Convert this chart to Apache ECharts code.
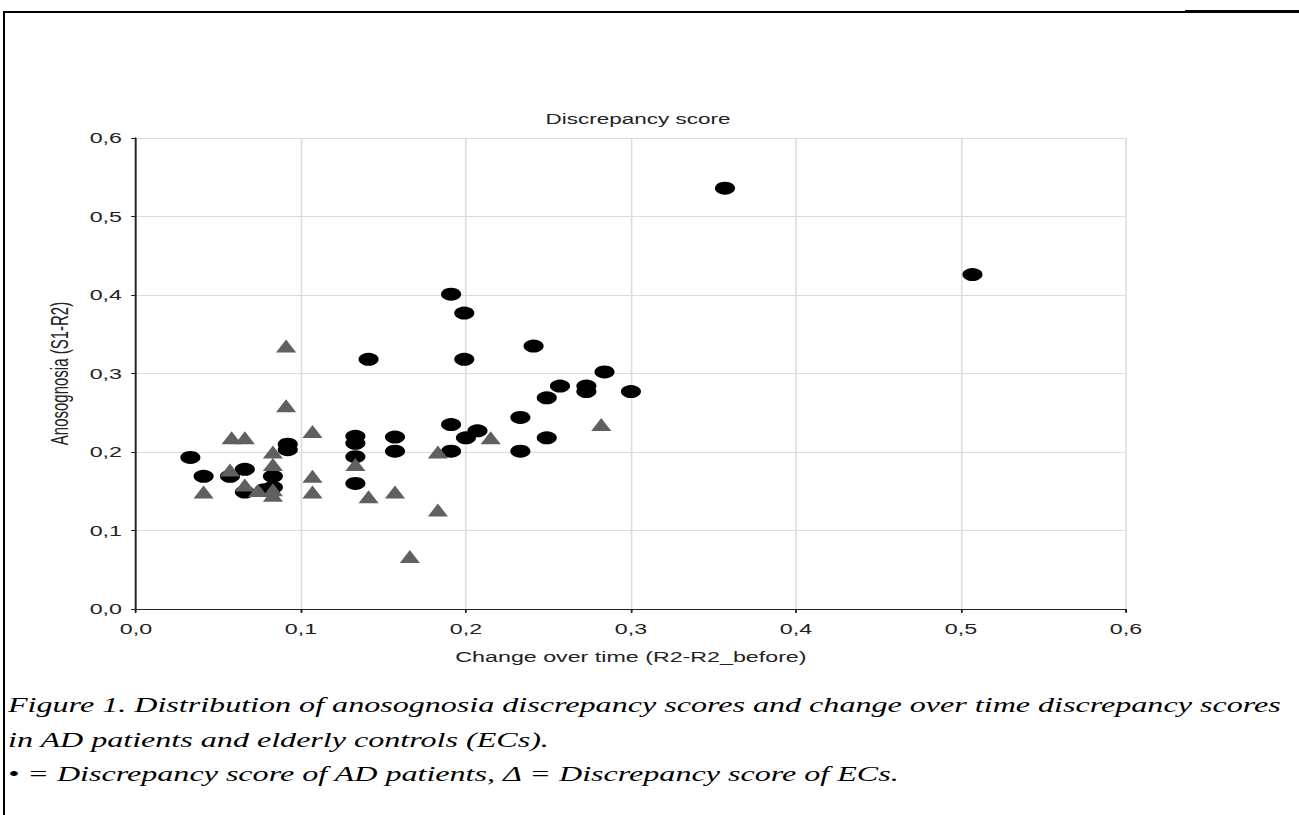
<!DOCTYPE html>
<html>
<head>
<meta charset="utf-8">
<script src="https://cdn.jsdelivr.net/npm/echarts@6/dist/echarts.min.js"></script>
<style>
html,body{margin:0;padding:0;background:#fff;}
body{width:1299px;height:815px;position:relative;overflow:hidden;}
#wrap{position:absolute;left:0;top:0;width:838px;height:815px;transform:scaleX(1.55);transform-origin:0 0;}
#chart{width:838px;height:815px;}
.cap{position:absolute;left:8px;font-family:"Liberation Serif","Times New Roman",serif;font-style:italic;font-size:20.5px;white-space:nowrap;transform:scaleX(1.565);transform-origin:0 0;color:#000;line-height:34.5px;}
.bl{position:absolute;background:#000;}
</style>
</head>
<body>
<div id="wrap"><div id="chart"></div></div>
<div class="bl" style="left:3px;top:11px;width:2px;height:804px;"></div>
<div class="bl" style="left:3px;top:11px;width:1182px;height:1.5px;"></div>
<div class="bl" style="left:1185px;top:10px;width:114px;height:3px;"></div>
<div class="cap" id="c1" style="top:688px;">Figure 1. Distribution of anosognosia discrepancy scores and change over time discrepancy scores</div>
<div class="cap" id="c2" style="top:722.5px;">in AD patients and elderly controls (ECs).</div>
<div class="cap" id="c3" style="top:757px;">• = Discrepancy score of AD patients, Δ = Discrepancy score of ECs.</div>
<script>
// Data: [change over time, anosognosia]
var adPatients = [
  [0.033,0.193],[0.041,0.169],[0.057,0.169],[0.066,0.178],[0.066,0.149],
  [0.078,0.152],[0.083,0.169],[0.083,0.155],[0.092,0.210],[0.092,0.203],
  [0.133,0.220],[0.133,0.211],[0.133,0.194],[0.133,0.160],[0.141,0.318],
  [0.157,0.219],[0.157,0.201],[0.191,0.401],[0.191,0.235],[0.191,0.201],
  [0.199,0.377],[0.199,0.318],[0.200,0.218],[0.207,0.227],[0.233,0.244],
  [0.233,0.201],[0.241,0.335],[0.249,0.269],[0.249,0.218],[0.257,0.284],
  [0.273,0.284],[0.273,0.277],[0.284,0.302],[0.300,0.277],[0.357,0.536],
  [0.507,0.426]
];
var elderlyControls = [
  [0.041,0.149],[0.057,0.177],[0.058,0.218],[0.066,0.218],[0.066,0.158],
  [0.074,0.151],[0.083,0.200],[0.083,0.184],[0.083,0.152],[0.083,0.145],
  [0.091,0.335],[0.091,0.259],[0.107,0.226],[0.107,0.169],[0.107,0.149],
  [0.133,0.184],[0.141,0.143],[0.157,0.149],[0.166,0.067],[0.183,0.200],
  [0.183,0.126],[0.215,0.218],[0.282,0.235]
];
var xTickLabels = ['0,0','0,1','0,2','0,3','0,4','0,5','0,6'];
var yTickLabels = ['0,0','0,1','0,2','0,3','0,4','0,5','0,6'];
var chartTitle = 'Discrepancy score';
var xName = 'Change over time (R2-R2_before)';
var yName = 'Anosognosia (S1-R2)';

function fmt(labels){ return function(v){ return labels[Math.round(v*10)]; }; }
var font = '"Liberation Sans", Arial, sans-serif';
var lab = {color:'#222', fontSize:15, fontFamily:font};
var chart = echarts.init(document.getElementById('chart'), null, {renderer:'svg'});
chart.setOption({
  animation:false,
  title:{text:chartTitle, left:347, top:107, textStyle:{color:'#222', fontSize:14.5, fontWeight:'normal', fontFamily:font}},
  grid:{left:87.7, top:138, width:638.7, height:471},
  xAxis:[{
    type:'value', min:0, max:0.6, interval:0.1, position:'bottom',
    name:xName, nameLocation:'middle', nameGap:40, nameTextStyle:lab,
    axisLine:{show:true, lineStyle:{color:'#222', width:1}},
    axisTick:{show:true, inside:false, length:3, lineStyle:{color:'#222'}},
    axisLabel:Object.assign({margin:12, formatter:fmt(xTickLabels)}, lab),
    splitLine:{show:true, lineStyle:{color:'#dcdcdc', width:1}}
  },{
    type:'value', min:0, max:0.6, interval:0.1, position:'top',
    axisLine:{show:true, lineStyle:{color:'#222', width:1}},
    axisTick:{show:true, inside:true, length:4, lineStyle:{color:'#222'}},
    axisLabel:{show:false}, splitLine:{show:false}
  }],
  yAxis:[{
    type:'value', min:0, max:0.6, interval:0.1, position:'left',
    name:yName, nameLocation:'middle', nameGap:42, nameTextStyle:lab,
    axisLine:{show:true, lineStyle:{color:'#222', width:1}},
    axisTick:{show:true, inside:false, length:3, lineStyle:{color:'#222'}},
    axisLabel:Object.assign({margin:9, formatter:fmt(yTickLabels)}, lab),
    splitLine:{show:true, lineStyle:{color:'#dcdcdc', width:1}}
  },{
    type:'value', min:0, max:0.6, interval:0.1, position:'right',
    axisLine:{show:true, lineStyle:{color:'#222', width:1}},
    axisTick:{show:true, inside:true, length:3, lineStyle:{color:'#222'}},
    axisLabel:{show:false}, splitLine:{show:false}
  }],
  series:[{
    name:'AD patients', type:'scatter', xAxisIndex:0, yAxisIndex:0,
    symbol:'circle', symbolSize:13, data:adPatients,
    itemStyle:{color:'#000', opacity:1}
  },{
    name:'Elderly controls', type:'scatter', xAxisIndex:0, yAxisIndex:0,
    symbol:'triangle', symbolSize:13, data:elderlyControls,
    itemStyle:{color:'#606060', opacity:1}
  }]
});
</script>
</body>
</html>
